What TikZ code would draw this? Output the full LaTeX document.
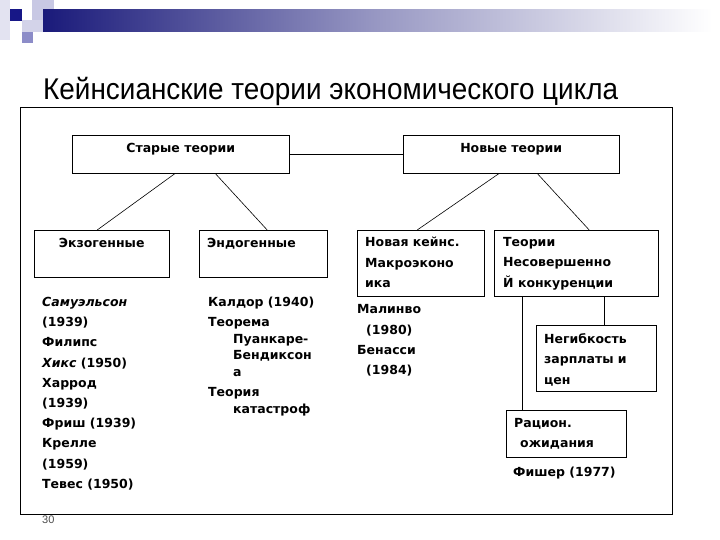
\documentclass[tikz,border=0pt]{standalone}
\usepackage{fontspec}
\setmainfont{DejaVu Sans}
\newfontfamily\titlefont{Liberation Sans}
\usetikzlibrary{positioning}
\definecolor{navy}{RGB}{26,26,122}
\definecolor{lav}{RGB}{200,200,228}
\definecolor{lavmid}{RGB}{140,140,200}
\tikzset{cell/.style={draw=black, inner sep=0pt, anchor=north west, font=\bfseries\fontsize{12.5}{20.5}\selectfont}}
\tikzset{note/.style={anchor=north west, inner sep=0pt, align=left, font=\bfseries\fontsize{12.5}{20.2}\selectfont}}
\tikzset{link/.style={draw=black, line width=0.6pt}}
% box text: width, height, top padding, content
\newcommand{\celltext}[4]{\parbox[c][#2pt][t]{#1pt}{\vspace*{#3pt}#4}}

\begin{document}
\begin{tikzpicture}[x=1pt, y=-1pt]
\useasboundingbox[fill=white] (0,0) rectangle (720,540);
% header decoration
\fill[lav!50] (0,0) rectangle (10,40);
\fill[lav] (32,0) rectangle (54,22);
\fill[lav!80] (22,20) rectangle (43,32);
\fill[lavmid] (22,32) rectangle (33,43);
\fill[navy!90!blue] (10,9) rectangle (22,21);
\shade[left color=navy, right color=white, middle color=navy!45!white] (43,10) rectangle (712,32);
\node[anchor=base west, inner sep=0pt, font=\titlefont\fontsize{30}{30}\selectfont] (title) at (43,100) {\scalebox{0.93}[1]{Кейнсианские теории экономического цикла}};
\draw[line width=0.8pt] (20,107) rectangle (672,514);
\node[anchor=base west, inner sep=0pt, text=black!70, font=\titlefont\fontsize{11}{11}\selectfont] (page) at (42,523) {30};

\node[cell] (old) at (72,135) {\celltext{217}{38}{8}{\centering Старые теории}};
\node[cell] (new) at (403,135) {\celltext{216}{38}{8}{\centering Новые теории}};
\node[cell] (exo) at (34,230) {\celltext{135}{47}{8}{\centering Экзогенные}};
\node[cell] (endo) at (199,230) {\celltext{128}{47}{8}{\leftskip=8pt Эндогенные}};
\node[cell] (nk) at (357,230) {\celltext{127}{66}{7}{\leftskip=8pt Новая кейнс.\\ Макроэконо\\ ика}};
\node[cell] (imp) at (494,230) {\celltext{164}{66}{7}{\leftskip=9pt Теории\\ Несовершенно\\ Й конкуренции}};
\node[cell] (rig) at (536,325) {\celltext{120}{66}{8}{\leftskip=8pt Негибкость\\ зарплаты и\\ цен}};
\node[cell] (rat) at (506,410) {\celltext{120}{47}{8}{\leftskip=8pt Рацион.\\ \hspace*{6pt}ожидания}};

\node[note] (exolist) at (42,297) {\textit{Самуэльсон}\\ (1939)\\ Филипс\\ \textit{Хикс} (1950)\\ Харрод\\ (1939)\\ Фриш (1939)\\ Крелле\\ (1959)\\ Тевес (1950)};
\node[note, font=\bfseries\fontsize{12.5}{16.5}\selectfont] (endolist) at (208,296.5) {Калдор (1940)\\[4pt] Теорема\\ \hspace*{25pt}Пуанкаре-\\ \hspace*{25pt}Бендиксон\\ \hspace*{25pt}а\\[4pt] Теория\\ \hspace*{25pt}катастроф};
\node[note] (nklist) at (357,304.5) {Малинво\\ \hspace*{9pt}(1980)\\ Бенасси\\ \hspace*{9pt}(1984)};
\node[note, anchor=base west] (ratlist) at (513,476) {Фишер (1977)};

\draw[link] (old.east) -- (new.west);
\draw[link] ([xshift=-5.5pt]old.south) -- ([xshift=-4.5pt]exo.north);
\draw[link] ([xshift=34.5pt]old.south) -- ([xshift=4pt]endo.north);
\draw[link] ([xshift=-12pt]new.south) -- ([xshift=-3.5pt]nk.north);
\draw[link] ([xshift=26pt]new.south) -- ([xshift=13pt]imp.north);
\draw[link] ([xshift=28pt]imp.south) -- ([xshift=28pt]imp.south |- rig.north);
\draw[link] ([xshift=-54pt]imp.south) -- ([xshift=-54pt]imp.south |- rat.north);
\end{tikzpicture}
\end{document}
